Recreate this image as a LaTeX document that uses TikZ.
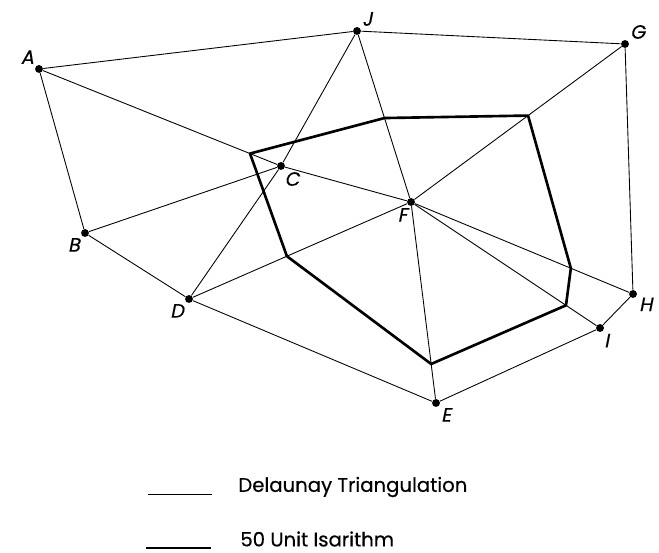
\documentclass[tikz,border=0pt]{standalone}
\usepackage{fontspec}
\setmainfont{Poppins}[FakeBold=0.4]
\newfontfamily\keyfont{Poppins}[FakeBold=0.4]
\newfontfamily\lblfont{Poppins}[FakeSlant=0.2,FakeBold=0.4]
\usetikzlibrary{calc}

\begin{document}
\begin{tikzpicture}[
  x=0.02cm, y=-0.02cm,
  pt/.style={circle, fill, inner sep=0pt, minimum size=4.5pt},
  lbl/.style={font=\fontsize{11}{13}\lblfont, inner sep=1pt},
  tri/.style={line width=0.5pt},
  iso/.style={line width=1.5pt, line join=round},
  key/.style={font=\fontsize{11.2}{13}\keyfont, anchor=west, inner sep=0pt}
]
  \useasboundingbox (0,0) rectangle (659,553);
  % data points
  \node[pt, label={[lbl]above left:A}] (A) at (39,69) {};
  \node[pt, label={[lbl]below left:B}] (B) at (85,233) {};
  \node[pt, label={[lbl]-70:C}] (C) at (281,166) {};
  \node[pt, label={[lbl]below left:D}] (D) at (189,299) {};
  \node[pt, label={[lbl]below right:E}] (E) at (436,403) {};
  \node[pt, label={[lbl]-110:F}] (F) at (411,202) {};
  \node[pt, label={[lbl]above right:G}] (G) at (625,44) {};
  \node[pt, label={[lbl]-20:H}] (H) at (633,294) {};
  \node[pt, label={[lbl]-60:I}] (I) at (600,328) {};
  \node[pt, label={[lbl]above right:J}] (J) at (357,31) {};
  % triangulation
  \foreach \u/\v in {A/J, J/G, G/H, H/I, I/E, E/D, D/B, B/A, A/C, B/C, C/D, C/J,
                     C/F, J/F, G/F, H/F, I/F, E/F, D/F}
    \draw[tri] (\u) -- (\v);
  % 50 unit isarithm, interpolated along the edges
  \coordinate (i1) at ($(A)!0.872!(C)$);
  \coordinate (i2) at ($(J)!0.509!(F)$);
  \coordinate (i3) at ($(G)!0.453!(F)$);
  \coordinate (i4) at ($(F)!0.72!(H)$);
  \coordinate (i5) at ($(F)!0.82!(I)$);
  \coordinate (i6) at ($(F)!0.806!(E)$);
  \coordinate (i7) at ($(D)!0.441!(F)$);
  \draw[iso] (i1) -- (i2) -- (i3) -- (i4) -- (i5) -- (i6) -- (i7) -- cycle;
  % key
  \coordinate (k1) at (148,494);
  \coordinate (k2) at (212,494);
  \coordinate (k3) at (146,548);
  \coordinate (k4) at (211,548);
  \draw[tri] (k1) -- (k2);
  \draw[iso] (k3) -- (k4);
  \node[key] (ktri) at (238,487) {Delaunay Triangulation};
  \node[key] (kiso) at (240,539) {50 Unit Isarithm};
\end{tikzpicture}
\end{document}
